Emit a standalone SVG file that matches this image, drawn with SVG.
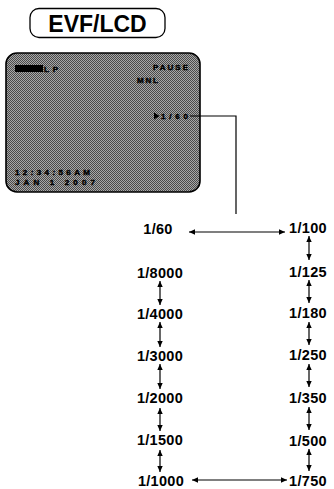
<svg xmlns="http://www.w3.org/2000/svg" width="334" height="489" viewBox="0 0 334 489">
<style>
.t{font-family:"Liberation Sans",Arial,sans-serif;font-weight:bold;font-size:14.5px;letter-spacing:0.3px;fill:#000;text-anchor:middle}
.s{font-family:"Liberation Sans",Arial,sans-serif;font-weight:bold;font-size:8px;fill:#000;stroke:#000;stroke-width:0.4}
.ln{stroke:#000;stroke-width:1.2;fill:none}
.ar{stroke:#000;stroke-width:1.2;fill:none;marker-start:url(#ah);marker-end:url(#ah)}
</style>
<defs>
<marker id="ah" viewBox="0 0 6 6" refX="6" refY="3" markerWidth="6" markerHeight="6" markerUnits="userSpaceOnUse" orient="auto-start-reverse">
<path d="M0,0.3 L6,3 L0,5.7 Z" fill="#000"/>
</marker>
<pattern id="ht" width="2" height="2" patternUnits="userSpaceOnUse">
<rect width="2" height="2" fill="#a8a8a8"/>
<rect width="1" height="1" fill="#4a4a4a"/>
<rect x="1" y="1" width="1" height="1" fill="#4a4a4a"/>
</pattern>
</defs>

<g id="title">
<rect x="30" y="8.5" width="135" height="29" rx="9" fill="#fff" stroke="#000" stroke-width="1.3"/>
<text x="97.5" y="32" font-family="Liberation Sans,Arial,sans-serif" font-weight="bold" font-size="23" text-anchor="middle">EVF/LCD</text>
</g>

<g id="screen">
<rect x="6" y="53" width="194" height="139" rx="11" fill="url(#ht)" stroke="#000" stroke-width="1.6"/>
<rect x="15" y="65" width="28" height="7" fill="#000"/>
<text class="s" x="44" y="72" textLength="14" lengthAdjust="spacing">LP</text>
<text class="s" x="153" y="70" textLength="35" lengthAdjust="spacing">PAUSE</text>
<text class="s" x="137" y="83" textLength="21" lengthAdjust="spacing">MNL</text>
<path d="M154,112.5 L159.5,116 L154,119.5 Z" fill="#000"/>
<text class="s" x="161" y="119" textLength="27" lengthAdjust="spacing">1/60</text>
<text class="s" x="15" y="175" textLength="75" lengthAdjust="spacing">12:34:56AM</text>
<text class="s" x="15" y="185" textLength="80" lengthAdjust="spacing">JAN  1 2007</text>
</g>

<g id="speeds-left">
<text class="t" x="158" y="234">1/60</text>
<text class="t" x="160" y="278">1/8000</text>
<text class="t" x="160" y="319">1/4000</text>
<text class="t" x="160" y="361">1/3000</text>
<text class="t" x="160" y="403">1/2000</text>
<text class="t" x="160" y="445">1/1500</text>
<text class="t" x="161" y="486">1/1000</text>
</g>
<g id="speeds-right">
<text class="t" x="308" y="233">1/100</text>
<text class="t" x="308" y="277">1/125</text>
<text class="t" x="308" y="318">1/180</text>
<text class="t" x="308" y="360">1/250</text>
<text class="t" x="308" y="403">1/350</text>
<text class="t" x="308" y="446">1/500</text>
<text class="t" x="308" y="486">1/750</text>
</g>

<g id="connectors">
<path class="ln" d="M190,116 H236 V214"/>
<line class="ar" x1="189" y1="232" x2="285" y2="232"/>
<line class="ar" x1="192" y1="480" x2="287" y2="480"/>
<line class="ar" x1="160" y1="281" x2="160" y2="305"/>
<line class="ar" x1="160" y1="322" x2="160" y2="347"/>
<line class="ar" x1="160" y1="364" x2="160" y2="389"/>
<line class="ar" x1="160" y1="408" x2="160" y2="431"/>
<line class="ar" x1="160" y1="450" x2="160" y2="472"/>
<line class="ar" x1="309" y1="236" x2="309" y2="260"/>
<line class="ar" x1="309" y1="280" x2="309" y2="303"/>
<line class="ar" x1="309" y1="322" x2="309" y2="345"/>
<line class="ar" x1="309" y1="364" x2="309" y2="387"/>
<line class="ar" x1="309" y1="407" x2="309" y2="430"/>
<line class="ar" x1="309" y1="449" x2="309" y2="471"/>
</g>
</svg>
